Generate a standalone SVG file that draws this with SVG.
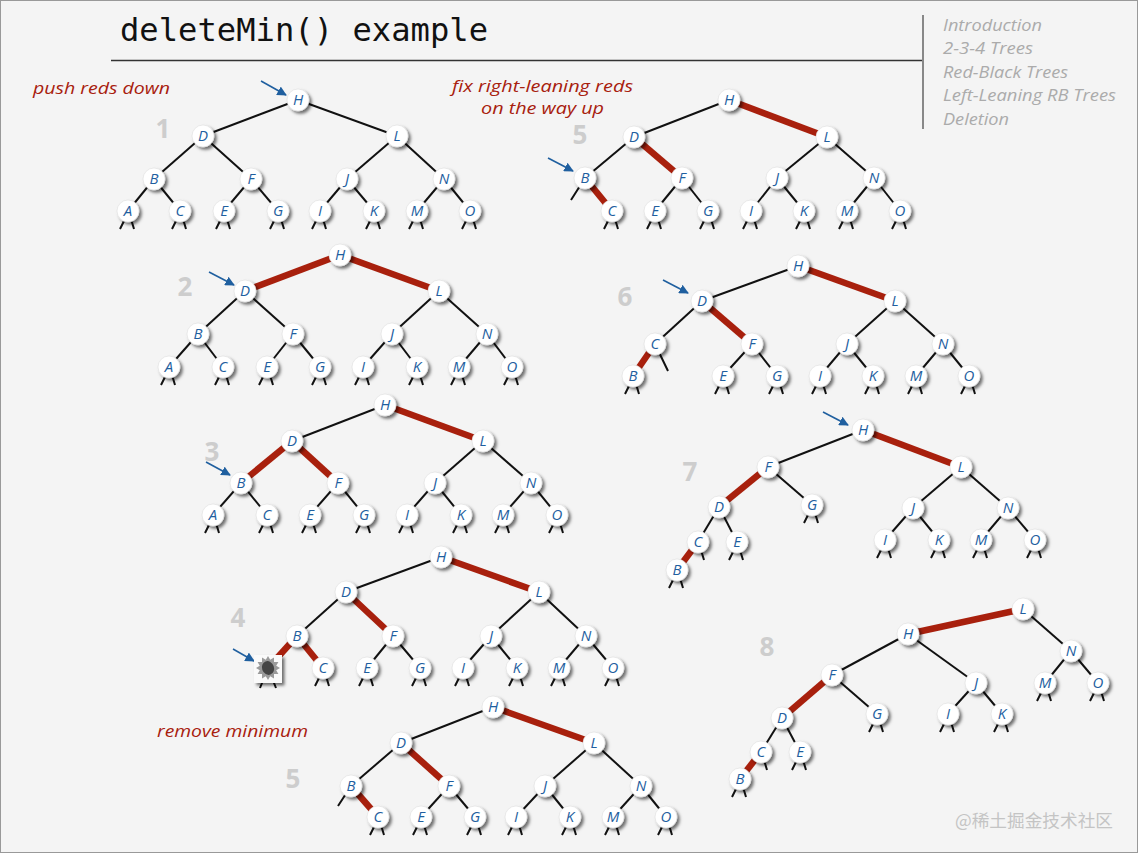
<svg xmlns="http://www.w3.org/2000/svg" width="1138" height="853" viewBox="0 0 1138 853">
<defs>
<filter id="sh" x="-50%" y="-50%" width="220%" height="220%">
<feDropShadow dx="2.5" dy="2.5" stdDeviation="1.6" flood-color="#000" flood-opacity="0.55"/>
</filter>
<marker id="ah" viewBox="0 0 10 10" refX="9" refY="5" markerWidth="6" markerHeight="6" orient="auto" markerUnits="strokeWidth">
<path d="M0,0L10,5L0,10z" fill="#1f5f9f"/>
</marker>
<style>
.n circle{fill:#fff;stroke:#ddd;stroke-width:0.6;filter:url(#sh)}
.n text{font-family:"Open Sans","DejaVu Sans",sans-serif;font-style:italic;font-size:15px;fill:#1f5f9f;text-anchor:middle}
.e{stroke:#111;stroke-width:2;fill:none}
.r{stroke:#a8200d;stroke-width:6.5;fill:none}
.s{stroke:#111;stroke-width:2;fill:none}
.ar{stroke:#1f5f9f;stroke-width:1.6;fill:none;marker-end:url(#ah)}
.num{font-family:"Open Sans","DejaVu Sans",sans-serif;font-weight:bold;font-size:26px;fill:#cdcdcd;text-anchor:middle}
.lbl{font-family:"Open Sans","DejaVu Sans",sans-serif;font-style:italic;font-size:17px;fill:#a8200d}
.lbl2{font-family:"Open Sans","DejaVu Sans",sans-serif;font-style:italic;font-size:16px;fill:#a8200d}
.nav{font-family:"Open Sans","DejaVu Sans",sans-serif;font-style:italic;font-size:16px;fill:#ababab}
</style>
</defs>
<rect x="0.5" y="0.5" width="1137" height="852" fill="#f4f4f4" stroke="#999" stroke-width="1"/>
<g id="header">
<text x="120" y="41" font-family="DejaVu Sans Mono, monospace" font-size="32" fill="#111" textLength="368" lengthAdjust="spacingAndGlyphs">deleteMin() example</text>
<line x1="111" y1="60.5" x2="922" y2="60.5" stroke="#333" stroke-width="1.5"/>
<line x1="923" y1="15" x2="923" y2="129" stroke="#888" stroke-width="2"/>
<text class="nav" x="943" y="31" textLength="99" lengthAdjust="spacingAndGlyphs">Introduction</text>
<text class="nav" x="943" y="54" textLength="90" lengthAdjust="spacingAndGlyphs">2-3-4 Trees</text>
<text class="nav" x="943" y="78" textLength="125" lengthAdjust="spacingAndGlyphs">Red-Black Trees</text>
<text class="nav" x="943" y="101" textLength="173" lengthAdjust="spacingAndGlyphs">Left-Leaning RB Trees</text>
<text class="nav" x="943" y="125" textLength="66" lengthAdjust="spacingAndGlyphs">Deletion</text>
</g>
<g id="labels">
<text class="lbl" x="33" y="94" textLength="137" lengthAdjust="spacingAndGlyphs">push reds down</text>
<text class="lbl2" x="452" y="92" textLength="181" lengthAdjust="spacingAndGlyphs">fix right-leaning reds</text>
<text class="lbl2" x="481" y="114" textLength="123" lengthAdjust="spacingAndGlyphs">on the way up</text>
<text class="lbl" x="157" y="737" textLength="151" lengthAdjust="spacingAndGlyphs">remove minimum</text>
<text class="num" x="163" y="138">1</text>
<text class="num" x="185" y="296">2</text>
<text class="num" x="212" y="461">3</text>
<text class="num" x="238" y="627">4</text>
<text class="num" x="580" y="144">5</text>
<text class="num" x="625" y="306">6</text>
<text class="num" x="690" y="481">7</text>
<text class="num" x="767" y="656">8</text>
<text class="num" x="293" y="788">5</text>
<text x="955" y="827" font-family="Noto Sans CJK SC, sans-serif" font-size="17.5" fill="#c4c4c4" textLength="158" lengthAdjust="spacingAndGlyphs">@稀土掘金技术社区</text>
</g>
<g id="connectors">
<!-- tree 1 -->
<line class="e" x1="298" y1="100" x2="203" y2="136"/><line class="e" x1="298" y1="100" x2="397" y2="136"/>
<line class="e" x1="203" y1="136" x2="154" y2="179"/><line class="e" x1="203" y1="136" x2="251" y2="179"/>
<line class="e" x1="397" y1="136" x2="347" y2="179"/><line class="e" x1="397" y1="136" x2="444" y2="179"/>
<line class="e" x1="154" y1="179" x2="128" y2="211"/><line class="e" x1="154" y1="179" x2="180" y2="211"/>
<line class="e" x1="251" y1="179" x2="224" y2="211"/><line class="e" x1="251" y1="179" x2="278" y2="211"/>
<line class="e" x1="347" y1="179" x2="320" y2="211"/><line class="e" x1="347" y1="179" x2="374" y2="211"/>
<line class="e" x1="444" y1="179" x2="417" y2="211"/><line class="e" x1="444" y1="179" x2="470" y2="211"/>
<path class="s" d="M125,219L120,229M131,219L134,229M177,219L172,229M183,219L186,229M221,219L216,229M227,219L230,229M275,219L270,229M281,219L284,229M317,219L312,229M323,219L326,229M371,219L366,229M377,219L380,229M414,219L409,229M420,219L423,229M467,219L462,229M473,219L476,229"/>
<line class="ar" x1="261" y1="81" x2="286" y2="95"/>
<!-- tree 2 -->
<line class="r" x1="340" y1="255" x2="245" y2="291"/><line class="r" x1="340" y1="255" x2="439" y2="291"/>
<line class="e" x1="245" y1="291" x2="198" y2="334"/><line class="e" x1="245" y1="291" x2="293" y2="334"/>
<line class="e" x1="439" y1="291" x2="392" y2="334"/><line class="e" x1="439" y1="291" x2="487" y2="334"/>
<line class="e" x1="198" y1="334" x2="169" y2="367"/><line class="e" x1="198" y1="334" x2="223" y2="367"/>
<line class="e" x1="293" y1="334" x2="267" y2="367"/><line class="e" x1="293" y1="334" x2="320" y2="367"/>
<line class="e" x1="392" y1="334" x2="363" y2="367"/><line class="e" x1="392" y1="334" x2="417" y2="367"/>
<line class="e" x1="487" y1="334" x2="459" y2="367"/><line class="e" x1="487" y1="334" x2="512" y2="367"/>
<path class="s" d="M166,375L161,385M172,375L175,385M220,375L215,385M226,375L229,385M264,375L259,385M270,375L273,385M317,375L312,385M323,375L326,385M360,375L355,385M366,375L369,385M414,375L409,385M420,375L423,385M456,375L451,385M462,375L465,385M509,375L504,385M515,375L518,385"/>
<line class="ar" x1="209" y1="272" x2="234" y2="285"/>
<!-- tree 3 -->
<line class="e" x1="385" y1="405" x2="292" y2="441"/><line class="r" x1="385" y1="405" x2="483" y2="441"/>
<line class="r" x1="292" y1="441" x2="241" y2="483"/><line class="r" x1="292" y1="441" x2="338" y2="483"/>
<line class="e" x1="483" y1="441" x2="435" y2="483"/><line class="e" x1="483" y1="441" x2="531" y2="483"/>
<line class="e" x1="241" y1="483" x2="213" y2="515"/><line class="e" x1="241" y1="483" x2="267" y2="515"/>
<line class="e" x1="338" y1="483" x2="310" y2="515"/><line class="e" x1="338" y1="483" x2="364" y2="515"/>
<line class="e" x1="435" y1="483" x2="407" y2="515"/><line class="e" x1="435" y1="483" x2="461" y2="515"/>
<line class="e" x1="531" y1="483" x2="503" y2="515"/><line class="e" x1="531" y1="483" x2="557" y2="515"/>
<path class="s" d="M210,523L205,533M216,523L219,533M264,523L259,533M270,523L273,533M307,523L302,533M313,523L316,533M361,523L356,533M367,523L370,533M404,523L399,533M410,523L413,533M458,523L453,533M464,523L467,533M500,523L495,533M506,523L509,533M554,523L549,533M560,523L563,533"/>
<line class="ar" x1="206" y1="462" x2="230" y2="475"/>
<!-- tree 4 -->
<line class="e" x1="441" y1="557" x2="346" y2="592"/><line class="r" x1="441" y1="557" x2="539" y2="592"/>
<line class="e" x1="346" y1="592" x2="297" y2="636"/><line class="r" x1="346" y1="592" x2="393" y2="636"/>
<line class="e" x1="539" y1="592" x2="491" y2="636"/><line class="e" x1="539" y1="592" x2="586" y2="636"/>
<line class="r" x1="297" y1="636" x2="268" y2="668"/><line class="r" x1="297" y1="636" x2="323" y2="668"/>
<line class="e" x1="393" y1="636" x2="367" y2="668"/><line class="e" x1="393" y1="636" x2="420" y2="668"/>
<line class="e" x1="491" y1="636" x2="463" y2="668"/><line class="e" x1="491" y1="636" x2="517" y2="668"/>
<line class="e" x1="586" y1="636" x2="559" y2="668"/><line class="e" x1="586" y1="636" x2="613" y2="668"/>
<path class="s" d="M264,678L260,688M272,678L276,688M320,676L315,686M326,676L329,686M364,676L359,686M370,676L373,686M417,676L412,686M423,676L426,686M460,676L455,686M466,676L469,686M514,676L509,686M520,676L523,686M556,676L551,686M562,676L565,686M610,676L605,686M616,676L619,686"/>
<line class="ar" x1="233" y1="649" x2="254" y2="661"/>
<!-- tree 5 bottom -->
<line class="e" x1="493" y1="707" x2="401" y2="743"/><line class="r" x1="493" y1="707" x2="594" y2="743"/>
<line class="e" x1="401" y1="743" x2="351" y2="786"/><line class="r" x1="401" y1="743" x2="449" y2="786"/>
<line class="e" x1="594" y1="743" x2="545" y2="786"/><line class="e" x1="594" y1="743" x2="641" y2="786"/>
<line class="r" x1="351" y1="786" x2="378" y2="817"/>
<line class="e" x1="449" y1="786" x2="421" y2="817"/><line class="e" x1="449" y1="786" x2="475" y2="817"/>
<line class="e" x1="545" y1="786" x2="516" y2="817"/><line class="e" x1="545" y1="786" x2="570" y2="817"/>
<line class="e" x1="641" y1="786" x2="613" y2="817"/><line class="e" x1="641" y1="786" x2="666" y2="817"/>
<path class="s" d="M351,786L338,806M375,825L370,835M381,825L384,835M418,825L413,835M424,825L427,835M472,825L467,835M478,825L481,835M513,825L508,835M519,825L522,835M567,825L562,835M573,825L576,835M610,825L605,835M616,825L619,835M663,825L658,835M669,825L672,835"/>
<!-- tree 5 top -->
<line class="e" x1="729" y1="100" x2="634" y2="137"/><line class="r" x1="729" y1="100" x2="827" y2="137"/>
<line class="e" x1="634" y1="137" x2="585" y2="178"/><line class="r" x1="634" y1="137" x2="682" y2="178"/>
<line class="e" x1="827" y1="137" x2="777" y2="178"/><line class="e" x1="827" y1="137" x2="874" y2="178"/>
<line class="r" x1="585" y1="178" x2="612" y2="211"/>
<line class="e" x1="682" y1="178" x2="655" y2="211"/><line class="e" x1="682" y1="178" x2="708" y2="211"/>
<line class="e" x1="777" y1="178" x2="751" y2="211"/><line class="e" x1="777" y1="178" x2="804" y2="211"/>
<line class="e" x1="874" y1="178" x2="847" y2="211"/><line class="e" x1="874" y1="178" x2="900" y2="211"/>
<path class="s" d="M585,178L571,200M609,219L604,229M615,219L618,229M652,219L647,229M658,219L661,229M705,219L700,229M711,219L714,229M748,219L743,229M754,219L757,229M801,219L796,229M807,219L810,229M844,219L839,229M850,219L853,229M897,219L892,229M903,219L906,229"/>
<line class="ar" x1="548" y1="158" x2="573" y2="171"/>
<!-- tree 6 -->
<line class="e" x1="798" y1="266" x2="702" y2="301"/><line class="r" x1="798" y1="266" x2="895" y2="301"/>
<line class="e" x1="702" y1="301" x2="655" y2="344"/><line class="r" x1="702" y1="301" x2="752" y2="344"/>
<line class="e" x1="895" y1="301" x2="847" y2="344"/><line class="e" x1="895" y1="301" x2="943" y2="344"/>
<line class="r" x1="655" y1="344" x2="633" y2="376"/>
<line class="e" x1="752" y1="344" x2="723" y2="376"/><line class="e" x1="752" y1="344" x2="777" y2="376"/>
<line class="e" x1="847" y1="344" x2="820" y2="376"/><line class="e" x1="847" y1="344" x2="873" y2="376"/>
<line class="e" x1="943" y1="344" x2="916" y2="376"/><line class="e" x1="943" y1="344" x2="969" y2="376"/>
<path class="s" d="M655,344L668,371M630,384L625,394M636,384L639,394M720,384L715,394M726,384L729,394M774,384L769,394M780,384L783,394M817,384L812,394M823,384L826,394M870,384L865,394M876,384L879,394M913,384L908,394M919,384L922,394M966,384L961,394M972,384L975,394"/>
<line class="ar" x1="663" y1="280" x2="688" y2="293"/>
<!-- tree 7 -->
<line class="e" x1="863" y1="430" x2="768" y2="467"/><line class="r" x1="863" y1="430" x2="961" y2="467"/>
<line class="r" x1="768" y1="467" x2="719" y2="507"/><line class="e" x1="768" y1="467" x2="812" y2="505"/>
<line class="e" x1="961" y1="467" x2="913" y2="508"/><line class="e" x1="961" y1="467" x2="1008" y2="508"/>
<line class="e" x1="719" y1="507" x2="698" y2="542"/><line class="e" x1="719" y1="507" x2="737" y2="542"/>
<line class="r" x1="698" y1="542" x2="677" y2="570"/>
<line class="e" x1="913" y1="508" x2="885" y2="540"/><line class="e" x1="913" y1="508" x2="939" y2="540"/>
<line class="e" x1="1008" y1="508" x2="981" y2="540"/><line class="e" x1="1008" y1="508" x2="1035" y2="540"/>
<path class="s" d="M674,578L669,588M680,578L683,588M701,550L704,560M734,550L729,560M740,550L743,560M809,513L804,523M815,513L818,523M882,548L877,558M888,548L891,558M936,548L931,558M942,548L945,558M978,548L973,558M984,548L987,558M1032,548L1027,558M1038,548L1041,558"/>
<line class="ar" x1="823" y1="412" x2="848" y2="425"/>
<!-- tree 8 -->
<line class="r" x1="1023" y1="609" x2="908" y2="634"/><line class="e" x1="1023" y1="609" x2="1071" y2="651"/>
<line class="e" x1="908" y1="634" x2="832" y2="675"/><line class="e" x1="908" y1="634" x2="976" y2="683"/>
<line class="e" x1="1071" y1="651" x2="1045" y2="683"/><line class="e" x1="1071" y1="651" x2="1098" y2="683"/>
<line class="r" x1="832" y1="675" x2="782" y2="718"/><line class="e" x1="832" y1="675" x2="877" y2="714"/>
<line class="e" x1="976" y1="683" x2="948" y2="714"/><line class="e" x1="976" y1="683" x2="1002" y2="714"/>
<line class="e" x1="782" y1="718" x2="761" y2="752"/><line class="e" x1="782" y1="718" x2="800" y2="752"/>
<line class="r" x1="761" y1="752" x2="740" y2="779"/>
<path class="s" d="M737,787L732,797M743,787L746,797M764,760L767,770M797,760L792,770M803,760L806,770M874,722L869,732M880,722L883,732M945,722L940,732M951,722L954,732M999,722L994,732M1005,722L1008,732M1042,691L1037,701M1048,691L1051,701M1095,691L1090,701M1101,691L1104,701"/>
</g>
<g id="tree1">
<g id="t1-H" class="n"><circle cx="298" cy="100" r="11"/><text x="298" y="105">H</text></g>
<g id="t1-D" class="n"><circle cx="203" cy="136" r="11"/><text x="203" y="141">D</text></g>
<g id="t1-L" class="n"><circle cx="397" cy="136" r="11"/><text x="397" y="141">L</text></g>
<g id="t1-B" class="n"><circle cx="154" cy="179" r="11"/><text x="154" y="184">B</text></g>
<g id="t1-F" class="n"><circle cx="251" cy="179" r="11"/><text x="251" y="184">F</text></g>
<g id="t1-J" class="n"><circle cx="347" cy="179" r="11"/><text x="347" y="184">J</text></g>
<g id="t1-N" class="n"><circle cx="444" cy="179" r="11"/><text x="444" y="184">N</text></g>
<g id="t1-A" class="n"><circle cx="128" cy="211" r="11"/><text x="128" y="216">A</text></g>
<g id="t1-C" class="n"><circle cx="180" cy="211" r="11"/><text x="180" y="216">C</text></g>
<g id="t1-E" class="n"><circle cx="224" cy="211" r="11"/><text x="224" y="216">E</text></g>
<g id="t1-G" class="n"><circle cx="278" cy="211" r="11"/><text x="278" y="216">G</text></g>
<g id="t1-I" class="n"><circle cx="320" cy="211" r="11"/><text x="320" y="216">I</text></g>
<g id="t1-K" class="n"><circle cx="374" cy="211" r="11"/><text x="374" y="216">K</text></g>
<g id="t1-M" class="n"><circle cx="417" cy="211" r="11"/><text x="417" y="216">M</text></g>
<g id="t1-O" class="n"><circle cx="470" cy="211" r="11"/><text x="470" y="216">O</text></g>
</g>
<g id="tree2">
<g id="t2-H" class="n"><circle cx="340" cy="255" r="11"/><text x="340" y="260">H</text></g>
<g id="t2-D" class="n"><circle cx="245" cy="291" r="11"/><text x="245" y="296">D</text></g>
<g id="t2-L" class="n"><circle cx="439" cy="291" r="11"/><text x="439" y="296">L</text></g>
<g id="t2-B" class="n"><circle cx="198" cy="334" r="11"/><text x="198" y="339">B</text></g>
<g id="t2-F" class="n"><circle cx="293" cy="334" r="11"/><text x="293" y="339">F</text></g>
<g id="t2-J" class="n"><circle cx="392" cy="334" r="11"/><text x="392" y="339">J</text></g>
<g id="t2-N" class="n"><circle cx="487" cy="334" r="11"/><text x="487" y="339">N</text></g>
<g id="t2-A" class="n"><circle cx="169" cy="367" r="11"/><text x="169" y="372">A</text></g>
<g id="t2-C" class="n"><circle cx="223" cy="367" r="11"/><text x="223" y="372">C</text></g>
<g id="t2-E" class="n"><circle cx="267" cy="367" r="11"/><text x="267" y="372">E</text></g>
<g id="t2-G" class="n"><circle cx="320" cy="367" r="11"/><text x="320" y="372">G</text></g>
<g id="t2-I" class="n"><circle cx="363" cy="367" r="11"/><text x="363" y="372">I</text></g>
<g id="t2-K" class="n"><circle cx="417" cy="367" r="11"/><text x="417" y="372">K</text></g>
<g id="t2-M" class="n"><circle cx="459" cy="367" r="11"/><text x="459" y="372">M</text></g>
<g id="t2-O" class="n"><circle cx="512" cy="367" r="11"/><text x="512" y="372">O</text></g>
</g>
<g id="tree3">
<g id="t3-H" class="n"><circle cx="385" cy="405" r="11"/><text x="385" y="410">H</text></g>
<g id="t3-D" class="n"><circle cx="292" cy="441" r="11"/><text x="292" y="446">D</text></g>
<g id="t3-L" class="n"><circle cx="483" cy="441" r="11"/><text x="483" y="446">L</text></g>
<g id="t3-B" class="n"><circle cx="241" cy="483" r="11"/><text x="241" y="488">B</text></g>
<g id="t3-F" class="n"><circle cx="338" cy="483" r="11"/><text x="338" y="488">F</text></g>
<g id="t3-J" class="n"><circle cx="435" cy="483" r="11"/><text x="435" y="488">J</text></g>
<g id="t3-N" class="n"><circle cx="531" cy="483" r="11"/><text x="531" y="488">N</text></g>
<g id="t3-A" class="n"><circle cx="213" cy="515" r="11"/><text x="213" y="520">A</text></g>
<g id="t3-C" class="n"><circle cx="267" cy="515" r="11"/><text x="267" y="520">C</text></g>
<g id="t3-E" class="n"><circle cx="310" cy="515" r="11"/><text x="310" y="520">E</text></g>
<g id="t3-G" class="n"><circle cx="364" cy="515" r="11"/><text x="364" y="520">G</text></g>
<g id="t3-I" class="n"><circle cx="407" cy="515" r="11"/><text x="407" y="520">I</text></g>
<g id="t3-K" class="n"><circle cx="461" cy="515" r="11"/><text x="461" y="520">K</text></g>
<g id="t3-M" class="n"><circle cx="503" cy="515" r="11"/><text x="503" y="520">M</text></g>
<g id="t3-O" class="n"><circle cx="557" cy="515" r="11"/><text x="557" y="520">O</text></g>
</g>
<g id="tree4">
<g id="t4-H" class="n"><circle cx="441" cy="557" r="11"/><text x="441" y="562">H</text></g>
<g id="t4-D" class="n"><circle cx="346" cy="592" r="11"/><text x="346" y="597">D</text></g>
<g id="t4-L" class="n"><circle cx="539" cy="592" r="11"/><text x="539" y="597">L</text></g>
<g id="t4-B" class="n"><circle cx="297" cy="636" r="11"/><text x="297" y="641">B</text></g>
<g id="t4-F" class="n"><circle cx="393" cy="636" r="11"/><text x="393" y="641">F</text></g>
<g id="t4-J" class="n"><circle cx="491" cy="636" r="11"/><text x="491" y="641">J</text></g>
<g id="t4-N" class="n"><circle cx="586" cy="636" r="11"/><text x="586" y="641">N</text></g>
<g id="t4-hole">
<rect x="254" y="655" width="28" height="28" fill="#fafafa" filter="url(#sh)"/>
<polygon points="280,668 276.2,670.2 278.4,674 274,674 274,678.4 270.2,676.2 268,680 265.8,676.2 262,678.4 262,674 257.6,674 259.8,670.2 256,668 259.8,665.8 257.6,662 262,662 262,657.6 265.8,659.8 268,656 270.2,659.8 274,657.6 274,662 278.4,662 276.2,665.8" fill="#9a9a9a"/>
<ellipse cx="268" cy="668" rx="6" ry="7" fill="#454545" transform="rotate(-20 268 668)"/>
</g>
<g id="t4-C" class="n"><circle cx="323" cy="668" r="11"/><text x="323" y="673">C</text></g>
<g id="t4-E" class="n"><circle cx="367" cy="668" r="11"/><text x="367" y="673">E</text></g>
<g id="t4-G" class="n"><circle cx="420" cy="668" r="11"/><text x="420" y="673">G</text></g>
<g id="t4-I" class="n"><circle cx="463" cy="668" r="11"/><text x="463" y="673">I</text></g>
<g id="t4-K" class="n"><circle cx="517" cy="668" r="11"/><text x="517" y="673">K</text></g>
<g id="t4-M" class="n"><circle cx="559" cy="668" r="11"/><text x="559" y="673">M</text></g>
<g id="t4-O" class="n"><circle cx="613" cy="668" r="11"/><text x="613" y="673">O</text></g>
</g>
<g id="tree5b">
<g id="t5b-H" class="n"><circle cx="493" cy="707" r="11"/><text x="493" y="712">H</text></g>
<g id="t5b-D" class="n"><circle cx="401" cy="743" r="11"/><text x="401" y="748">D</text></g>
<g id="t5b-L" class="n"><circle cx="594" cy="743" r="11"/><text x="594" y="748">L</text></g>
<g id="t5b-B" class="n"><circle cx="351" cy="786" r="11"/><text x="351" y="791">B</text></g>
<g id="t5b-F" class="n"><circle cx="449" cy="786" r="11"/><text x="449" y="791">F</text></g>
<g id="t5b-J" class="n"><circle cx="545" cy="786" r="11"/><text x="545" y="791">J</text></g>
<g id="t5b-N" class="n"><circle cx="641" cy="786" r="11"/><text x="641" y="791">N</text></g>
<g id="t5b-C" class="n"><circle cx="378" cy="817" r="11"/><text x="378" y="822">C</text></g>
<g id="t5b-E" class="n"><circle cx="421" cy="817" r="11"/><text x="421" y="822">E</text></g>
<g id="t5b-G" class="n"><circle cx="475" cy="817" r="11"/><text x="475" y="822">G</text></g>
<g id="t5b-I" class="n"><circle cx="516" cy="817" r="11"/><text x="516" y="822">I</text></g>
<g id="t5b-K" class="n"><circle cx="570" cy="817" r="11"/><text x="570" y="822">K</text></g>
<g id="t5b-M" class="n"><circle cx="613" cy="817" r="11"/><text x="613" y="822">M</text></g>
<g id="t5b-O" class="n"><circle cx="666" cy="817" r="11"/><text x="666" y="822">O</text></g>
</g>
<g id="tree5">
<g id="t5-H" class="n"><circle cx="729" cy="100" r="11"/><text x="729" y="105">H</text></g>
<g id="t5-D" class="n"><circle cx="634" cy="137" r="11"/><text x="634" y="142">D</text></g>
<g id="t5-L" class="n"><circle cx="827" cy="137" r="11"/><text x="827" y="142">L</text></g>
<g id="t5-B" class="n"><circle cx="585" cy="178" r="11"/><text x="585" y="183">B</text></g>
<g id="t5-F" class="n"><circle cx="682" cy="178" r="11"/><text x="682" y="183">F</text></g>
<g id="t5-J" class="n"><circle cx="777" cy="178" r="11"/><text x="777" y="183">J</text></g>
<g id="t5-N" class="n"><circle cx="874" cy="178" r="11"/><text x="874" y="183">N</text></g>
<g id="t5-C" class="n"><circle cx="612" cy="211" r="11"/><text x="612" y="216">C</text></g>
<g id="t5-E" class="n"><circle cx="655" cy="211" r="11"/><text x="655" y="216">E</text></g>
<g id="t5-G" class="n"><circle cx="708" cy="211" r="11"/><text x="708" y="216">G</text></g>
<g id="t5-I" class="n"><circle cx="751" cy="211" r="11"/><text x="751" y="216">I</text></g>
<g id="t5-K" class="n"><circle cx="804" cy="211" r="11"/><text x="804" y="216">K</text></g>
<g id="t5-M" class="n"><circle cx="847" cy="211" r="11"/><text x="847" y="216">M</text></g>
<g id="t5-O" class="n"><circle cx="900" cy="211" r="11"/><text x="900" y="216">O</text></g>
</g>
<g id="tree6">
<g id="t6-H" class="n"><circle cx="798" cy="266" r="11"/><text x="798" y="271">H</text></g>
<g id="t6-D" class="n"><circle cx="702" cy="301" r="11"/><text x="702" y="306">D</text></g>
<g id="t6-L" class="n"><circle cx="895" cy="301" r="11"/><text x="895" y="306">L</text></g>
<g id="t6-C" class="n"><circle cx="655" cy="344" r="11"/><text x="655" y="349">C</text></g>
<g id="t6-F" class="n"><circle cx="752" cy="344" r="11"/><text x="752" y="349">F</text></g>
<g id="t6-J" class="n"><circle cx="847" cy="344" r="11"/><text x="847" y="349">J</text></g>
<g id="t6-N" class="n"><circle cx="943" cy="344" r="11"/><text x="943" y="349">N</text></g>
<g id="t6-B" class="n"><circle cx="633" cy="376" r="11"/><text x="633" y="381">B</text></g>
<g id="t6-E" class="n"><circle cx="723" cy="376" r="11"/><text x="723" y="381">E</text></g>
<g id="t6-G" class="n"><circle cx="777" cy="376" r="11"/><text x="777" y="381">G</text></g>
<g id="t6-I" class="n"><circle cx="820" cy="376" r="11"/><text x="820" y="381">I</text></g>
<g id="t6-K" class="n"><circle cx="873" cy="376" r="11"/><text x="873" y="381">K</text></g>
<g id="t6-M" class="n"><circle cx="916" cy="376" r="11"/><text x="916" y="381">M</text></g>
<g id="t6-O" class="n"><circle cx="969" cy="376" r="11"/><text x="969" y="381">O</text></g>
</g>
<g id="tree7">
<g id="t7-H" class="n"><circle cx="863" cy="430" r="11"/><text x="863" y="435">H</text></g>
<g id="t7-F" class="n"><circle cx="768" cy="467" r="11"/><text x="768" y="472">F</text></g>
<g id="t7-L" class="n"><circle cx="961" cy="467" r="11"/><text x="961" y="472">L</text></g>
<g id="t7-D" class="n"><circle cx="719" cy="507" r="11"/><text x="719" y="512">D</text></g>
<g id="t7-G" class="n"><circle cx="812" cy="505" r="11"/><text x="812" y="510">G</text></g>
<g id="t7-J" class="n"><circle cx="913" cy="508" r="11"/><text x="913" y="513">J</text></g>
<g id="t7-N" class="n"><circle cx="1008" cy="508" r="11"/><text x="1008" y="513">N</text></g>
<g id="t7-C" class="n"><circle cx="698" cy="542" r="11"/><text x="698" y="547">C</text></g>
<g id="t7-E" class="n"><circle cx="737" cy="542" r="11"/><text x="737" y="547">E</text></g>
<g id="t7-I" class="n"><circle cx="885" cy="540" r="11"/><text x="885" y="545">I</text></g>
<g id="t7-K" class="n"><circle cx="939" cy="540" r="11"/><text x="939" y="545">K</text></g>
<g id="t7-M" class="n"><circle cx="981" cy="540" r="11"/><text x="981" y="545">M</text></g>
<g id="t7-O" class="n"><circle cx="1035" cy="540" r="11"/><text x="1035" y="545">O</text></g>
<g id="t7-B" class="n"><circle cx="677" cy="570" r="11"/><text x="677" y="575">B</text></g>
</g>
<g id="tree8">
<g id="t8-L" class="n"><circle cx="1023" cy="609" r="11"/><text x="1023" y="614">L</text></g>
<g id="t8-H" class="n"><circle cx="908" cy="634" r="11"/><text x="908" y="639">H</text></g>
<g id="t8-N" class="n"><circle cx="1071" cy="651" r="11"/><text x="1071" y="656">N</text></g>
<g id="t8-F" class="n"><circle cx="832" cy="675" r="11"/><text x="832" y="680">F</text></g>
<g id="t8-J" class="n"><circle cx="976" cy="683" r="11"/><text x="976" y="688">J</text></g>
<g id="t8-M" class="n"><circle cx="1045" cy="683" r="11"/><text x="1045" y="688">M</text></g>
<g id="t8-O" class="n"><circle cx="1098" cy="683" r="11"/><text x="1098" y="688">O</text></g>
<g id="t8-D" class="n"><circle cx="782" cy="718" r="11"/><text x="782" y="723">D</text></g>
<g id="t8-G" class="n"><circle cx="877" cy="714" r="11"/><text x="877" y="719">G</text></g>
<g id="t8-I" class="n"><circle cx="948" cy="714" r="11"/><text x="948" y="719">I</text></g>
<g id="t8-K" class="n"><circle cx="1002" cy="714" r="11"/><text x="1002" y="719">K</text></g>
<g id="t8-C" class="n"><circle cx="761" cy="752" r="11"/><text x="761" y="757">C</text></g>
<g id="t8-E" class="n"><circle cx="800" cy="752" r="11"/><text x="800" y="757">E</text></g>
<g id="t8-B" class="n"><circle cx="740" cy="779" r="11"/><text x="740" y="784">B</text></g>
</g>
</svg>
